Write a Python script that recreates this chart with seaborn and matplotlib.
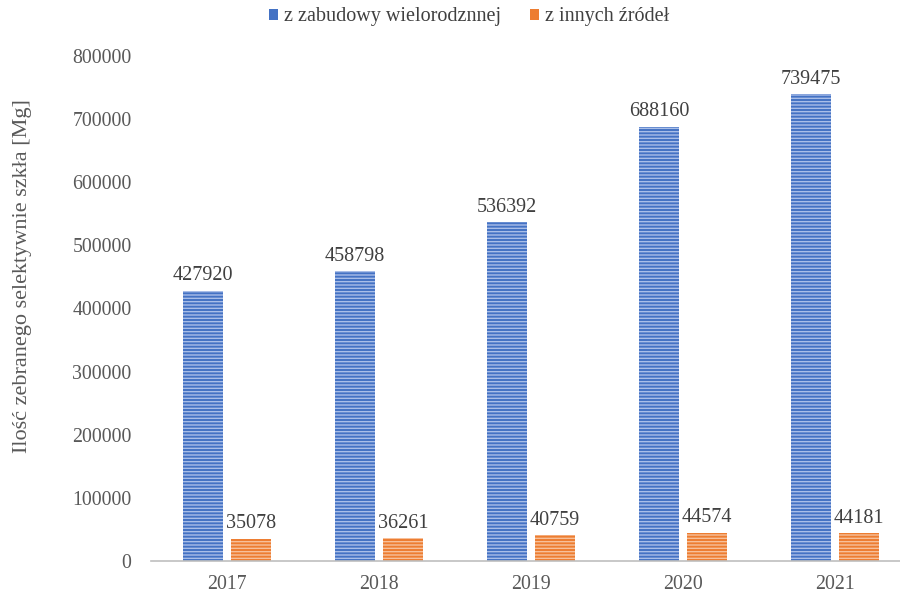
import matplotlib
matplotlib.use("Agg")
import matplotlib.pyplot as plt
from matplotlib.patches import Patch
import seaborn as sns
import pandas as pd

years = ["2017", "2018", "2019", "2020", "2021"]
multi_family = [427920, 458798, 536392, 688160, 739475]
other_sources = [35078, 36261, 40759, 44574, 44181]
series_names = ["z zabudowy wielorodznnej", "z innych źródeł"]
y_label = "Ilość zebranego selektywnie szkła [Mg]"

df = pd.DataFrame({
    "rok": years * 2,
    "wartosc": multi_family + other_sources,
    "seria": [series_names[0]] * len(years) + [series_names[1]] * len(years),
})

sns.set_theme(style="white")
plt.rcParams["font.family"] = ["Liberation Serif", "DejaVu Serif"]
plt.rcParams["hatch.linewidth"] = 1.0

fig = plt.figure(figsize=(9, 5.93), dpi=100)
ax = fig.add_axes([151 / 900, 32 / 593, 760 / 900, 505 / 593])

palette = {series_names[0]: "#4472C4", series_names[1]: "#ED7D31"}
sns.barplot(data=df, x="rok", y="wartosc", hue="seria", order=years,
            hue_order=series_names, palette=palette, width=0.63, gap=0.17,
            ax=ax, saturation=1.0, legend=False)

# light horizontal stripes over each bar
stripe_colors = ["#A9BEE8", "#F7C09A"]
for cont, sc in zip(ax.containers, stripe_colors):
    for bar in cont:
        bar.set_hatch("-----")
        bar.set_edgecolor(sc)
        bar.set_linewidth(0)
    ax.bar_label(cont, labels=[f"{int(v)}" for v in cont.datavalues],
                 padding=4, fontsize=14.5, color="#404040")

ax.set_xlim(-0.5, 4.5)
ax.set_ylim(0, 800000)
ax.set_yticks(range(0, 800001, 100000))
ax.set_yticklabels([str(v) for v in range(0, 800001, 100000)])
ax.set_xlabel("")
ax.set_ylabel(y_label, fontsize=16, color="#595959")
ax.yaxis.set_label_coords(-0.157, 0.564)
ax.tick_params(axis="y", length=0, pad=14, labelsize=14.3, labelcolor="#595959")
ax.tick_params(axis="x", length=0, pad=10, labelsize=14.3, labelcolor="#595959")

for s in ["top", "right", "left"]:
    ax.spines[s].set_visible(False)
ax.spines["bottom"].set_color("#BFBFBF")
ax.spines["bottom"].set_linewidth(1.2)
ax.grid(False)

handles = [Patch(facecolor=palette[n], edgecolor="none") for n in series_names]
fig.legend(handles, series_names, loc="center", bbox_to_anchor=(469 / 900, 1 - 17 / 593),
           ncol=2, frameon=False, fontsize=14.5, handlelength=0.45, handleheight=0.45,
           handletextpad=0.3, columnspacing=1.4, labelcolor="#404040")

fig.savefig("out.png", dpi=100, facecolor="white")
